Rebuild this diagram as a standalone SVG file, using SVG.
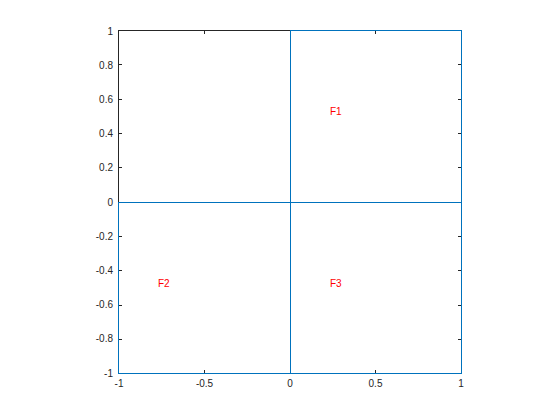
<svg xmlns="http://www.w3.org/2000/svg" width="560" height="420" viewBox="0 0 560 420">
<style>
.ax{stroke:#262626;stroke-width:1;fill:none;shape-rendering:crispEdges}
.tk{stroke:#262626;stroke-width:1;shape-rendering:crispEdges}
.lb{font-family:"Liberation Sans",Arial,sans-serif;font-size:10px;fill:#262626}
.ql{stroke:#0072BD;stroke-width:1;fill:none;shape-rendering:crispEdges}
.ft{font-family:"Liberation Sans",Arial,sans-serif;font-size:10px;fill:#FF0000}
</style>
<rect width="560" height="420" fill="#fff"/>
<g id="axes">
<rect class="ax" x="118.5" y="30.5" width="342.5" height="342.5"/>
<g class="tk">
<path d="M118.5 373v-3.4M204.5 373v-3.4M290.5 373v-3.4M375.5 373v-3.4M461 373v-3.4M118.5 30.5v3.4M204.5 30.5v3.4M290.5 30.5v3.4M375.5 30.5v3.4M461 30.5v3.4"/>
<path d="M118.5 30.5h3.4M118.5 64.9h3.4M118.5 99.2h3.4M118.5 133.5h3.4M118.5 167.8h3.4M118.5 202.5h3.4M118.5 236.5h3.4M118.5 270.8h3.4M118.5 305h3.4M118.5 339.2h3.4M118.5 373h3.4"/>
<path d="M461 30.5h-3.4M461 64.9h-3.4M461 99.2h-3.4M461 133.5h-3.4M461 167.8h-3.4M461 202.5h-3.4M461 236.5h-3.4M461 270.8h-3.4M461 305h-3.4M461 339.2h-3.4M461 373h-3.4"/>
</g>
<g class="lb" text-anchor="end">
<text x="113" y="34.6">1</text>
<text x="113" y="68.8">0.8</text>
<text x="113" y="103">0.6</text>
<text x="113" y="137.2">0.4</text>
<text x="113" y="171.4">0.2</text>
<text x="113" y="205.6">0</text>
<text x="113" y="239.8">-0.2</text>
<text x="113" y="274">-0.4</text>
<text x="113" y="308.2">-0.6</text>
<text x="113" y="342.4">-0.8</text>
<text x="113" y="376.6">-1</text>
</g>
<g class="lb" text-anchor="middle">
<text x="119" y="387">-1</text>
<text x="204.5" y="387">-0.5</text>
<text x="290" y="387">0</text>
<text x="375.5" y="387">0.5</text>
<text x="461" y="387">1</text>
</g>
</g>
<g id="connectors">
<polyline class="ql" points="290.5,202.5 290.5,30.5 461,30.5 461,373 118.5,373 118.5,202.5 461,202.5"/>
<line class="ql" x1="290.5" y1="202.5" x2="290.5" y2="373"/>
</g>
<g id="F1"><text class="ft" x="330" y="115">F1</text></g>
<g id="F2"><text class="ft" x="158" y="287">F2</text></g>
<g id="F3"><text class="ft" x="330" y="287">F3</text></g>
</svg>
